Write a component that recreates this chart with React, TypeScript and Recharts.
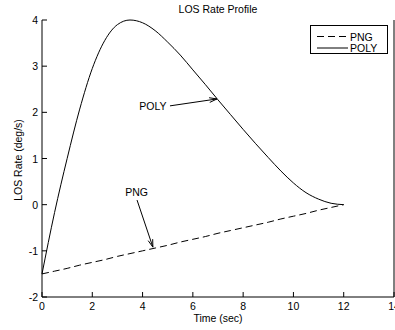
import React from 'react';
import { LineChart, Line, XAxis, YAxis, Legend, ReferenceLine, ReferenceDot } from 'recharts';

const time = [0, 0.5, 1, 1.5, 2, 2.5, 3, 3.5, 4, 4.5, 5, 5.5, 6, 6.5, 7, 7.5, 8, 8.5, 9, 9.5, 10, 10.5, 11, 11.5, 12];
const polyRate = [
  -1.5, -0.17, 1.0, 2.07, 2.95, 3.56, 3.9, 4.0, 3.94, 3.77, 3.52, 3.24, 2.92,
  2.6, 2.27, 1.95, 1.63, 1.32, 1.02, 0.73, 0.47, 0.26, 0.12, 0.03, 0.0,
];
const pngRate = [
  -1.5, -1.44, -1.38, -1.31, -1.25, -1.19, -1.12, -1.06, -1.0, -0.94, -0.88, -0.81, -0.75,
  -0.69, -0.62, -0.56, -0.5, -0.44, -0.38, -0.31, -0.25, -0.19, -0.12, -0.06, 0.0,
];
const xTicks = [0, 2, 4, 6, 8, 10, 12, 14];
const yTicks = [-2, -1, 0, 1, 2, 3, 4];

const data = time.map((t, i) => ({ t, PNG: pngRate[i], POLY: polyRate[i] }));

const FONT = '"Liberation Sans", Arial, Helvetica, sans-serif';
const FS = 10.5;

// MATLAB-style ticks pointing into the plot box
const BottomTick = (props: any) => {
  const { x, y, payload } = props;
  return (
    <g>
      <line x1={x} y1={y} x2={x} y2={y - 5} stroke="#000" />
      <text x={x} y={y + 13} textAnchor="middle" fontSize={FS} fontFamily={FONT} fill="#000">
        {payload.value}
      </text>
    </g>
  );
};

const LeftTick = (props: any) => {
  const { x, y, payload } = props;
  return (
    <g>
      <line x1={x} y1={y} x2={x + 5} y2={y} stroke="#000" />
      <text x={x - 4} y={y + 4} textAnchor="end" fontSize={FS} fontFamily={FONT} fill="#000">
        {payload.value}
      </text>
    </g>
  );
};

const TopTick = (props: any) => <line x1={props.x} y1={props.y} x2={props.x} y2={props.y + 5} stroke="#000" />;
const RightTick = (props: any) => <line x1={props.x} y1={props.y} x2={props.x - 5} y2={props.y} stroke="#000" />;

const Arrow = (props: any) => {
  const { x1, y1, x2, y2 } = props;
  const a = Math.atan2(y2 - y1, x2 - x1);
  const len = 8;
  const spread = 0.3;
  const p1 = [x2 - len * Math.cos(a - spread), y2 - len * Math.sin(a - spread)];
  const p2 = [x2 - len * Math.cos(a + spread), y2 - len * Math.sin(a + spread)];
  return (
    <g>
      <line x1={x1} y1={y1} x2={x2} y2={y2} stroke="#000" strokeWidth={1} />
      <polyline points={`${p1[0]},${p1[1]} ${x2},${y2} ${p2[0]},${p2[1]}`} fill="none" stroke="#000" />
    </g>
  );
};

const Note = (text: string) => (props: any) => (
  <text x={props.cx} y={props.cy + 4} textAnchor="middle" fontSize={FS} fontFamily={FONT} fill="#000">
    {text}
  </text>
);

const LegendBox = () => (
  <svg width={79} height={30} style={{ display: 'block' }}>
    <rect x={0.5} y={0.5} width={77} height={28} fill="#fff" stroke="#000" />
    <line x1={7} y1={11.5} x2={38} y2={11.5} stroke="#000" strokeDasharray="7 4" />
    <text x={40} y={15.5} fontSize={FS} fontFamily={FONT} fill="#000">PNG</text>
    <line x1={7} y1={23} x2={38} y2={23} stroke="#000" />
    <text x={40} y={27} fontSize={FS} fontFamily={FONT} fill="#000">POLY</text>
  </svg>
);

export default function App() {
  return (
    <div style={{ position: 'absolute', left: 0, top: 0, width: 395, height: 330, background: '#fff' }}>
      <LineChart width={395} height={330} data={data} margin={{ top: 20, right: 0, bottom: 0, left: 0 }}>
        <XAxis
          dataKey="t"
          type="number"
          domain={[0, 14]}
          ticks={xTicks}
          height={33}
          tickSize={0}
          tickMargin={0}
          tickLine={false}
          tick={<BottomTick />}
          axisLine={{ stroke: '#000' }}
          interval={0}
        />
        <XAxis
          xAxisId="top"
          orientation="top"
          dataKey="t"
          type="number"
          domain={[0, 14]}
          ticks={xTicks}
          height={0}
          tickSize={0}
          tickMargin={0}
          tickLine={false}
          tick={<TopTick />}
          axisLine={{ stroke: '#000' }}
          interval={0}
        />
        <YAxis
          type="number"
          domain={[-2, 4]}
          ticks={yTicks}
          width={42}
          tickSize={0}
          tickMargin={0}
          tickLine={false}
          tick={<LeftTick />}
          axisLine={{ stroke: '#000' }}
          interval={0}
        />
        <YAxis
          yAxisId="right"
          orientation="right"
          type="number"
          domain={[-2, 4]}
          ticks={yTicks}
          width={1}
          tickSize={0}
          tickMargin={0}
          tickLine={false}
          tick={<RightTick />}
          axisLine={{ stroke: '#000' }}
          interval={0}
        />
        <Legend
          layout="horizontal"
          verticalAlign="middle"
          align="center"
          content={() => <LegendBox />}
          wrapperStyle={{ position: 'absolute', left: 310, top: 25, width: 79, height: 30 }}
        />
        <Line
          type="monotone"
          dataKey="PNG"
          stroke="#000"
          strokeWidth={1}
          strokeDasharray="7 4"
          dot={false}
          isAnimationActive={false}
        />
        <Line
          type="monotone"
          dataKey="POLY"
          stroke="#000"
          strokeWidth={1}
          dot={false}
          isAnimationActive={false}
        />
        <ReferenceLine segment={[{ x: 5.09, y: 2.14 }, { x: 6.96, y: 2.29 }]} shape={Arrow} />
        <ReferenceLine segment={[{ x: 3.78, y: 0.1 }, { x: 4.41, y: -0.92 }]} shape={Arrow} />
        <ReferenceDot x={4.41} y={2.14} r={0} shape={Note('POLY')} />
        <ReferenceDot x={3.76} y={0.27} r={0} shape={Note('PNG')} />
        <text x={218} y={13} textAnchor="middle" fontSize={FS} fontFamily={FONT} fill="#000">
          LOS Rate Profile
        </text>
        <text x={218} y={322} textAnchor="middle" fontSize={FS} fontFamily={FONT} fill="#000">
          Time (sec)
        </text>
        <text
          x={22}
          y={160}
          transform="rotate(-90 22 160)"
          textAnchor="middle"
          fontSize={FS}
          fontFamily={FONT}
          fill="#000"
        >
          LOS Rate (deg/s)
        </text>
      </LineChart>
    </div>
  );
}
